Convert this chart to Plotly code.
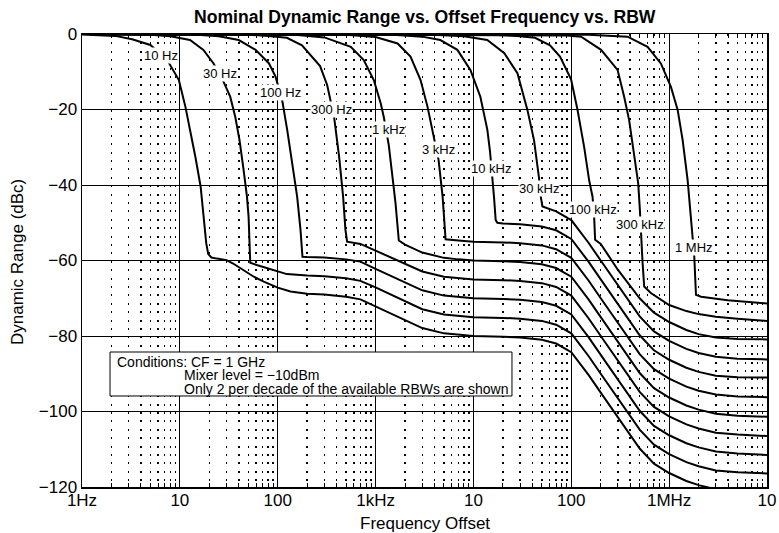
import math
import plotly.graph_objects as go

TITLE = "Nominal Dynamic Range vs. Offset Frequency vs. RBW"
X_TITLE = "Frequency Offset"
Y_TITLE = "Dynamic Range (dBc)"
X_TICK_VALUES = [1, 10, 100, 1e3, 1e4, 1e5, 1e6, 1e7]
X_TICK_LABELS = ["1Hz", "10", "100", "1kHz", "10", "100", "1MHz", "10"]
Y_TICK_VALUES = [0, -20, -40, -60, -80, -100, -120]
Y_TICK_LABELS = ["0", "\u221220", "\u221240", "\u221260", "\u221280", "\u2212100", "\u2212120"]
CONDITIONS = ["Conditions: CF = 1 GHz",
              "Mixer level = \u221210dBm",
              "Only 2 per decade of the available RBWs are shown"]

# ---- curves (offset frequency in Hz, dynamic range in dBc) ----
f_10hz = [1, 2.19, 3.25, 5.0, 7.59, 9.77, 11.4, 12.8, 14.4, 16.3, 17.6, 18.6, 19.5, 21, 24, 30, 35, 41, 50, 57,
          72, 100, 135, 200, 300, 500, 700, 1e3, 1.5e3, 2e3, 3e3, 5e3, 7e3, 1e4, 2e4, 3e4, 5e4, 7e4, 1e5, 1.5e5,
          2e5, 3e5, 5e5, 7e5, 1e6, 1.5e6, 2e6, 3e6]
db_10hz = [-0.1, -0.5, -1.4, -2.9, -7.3, -12.2, -19.3, -25.4, -32.5, -40.4, -48.4, -55.4, -58.3, -59.2, -59.5, -59.9, -60.8, -61.9, -63.4, -64.3,
           -65.6, -67.2, -68.2, -68.8, -69.0, -69.6, -70.3, -72.2, -74.3, -75.8, -77.9, -79.3, -79.7, -80.0, -80.2, -80.4, -81.0, -82.0, -84.3, -90.3,
           -95.0, -101.7, -109.8, -113.8, -116.3, -118.4, -119.5, -120.6]

f_30hz = [1, 5, 8, 12.7, 17.4, 22.1, 27.9, 32.7, 36.8, 40.7, 44.8, 48.5, 50.4, 51.6, 52.4, 61, 78, 100, 124, 200,
          300, 500, 700, 1e3, 1.5e3, 2e3, 3e3, 5e3, 7e3, 1e4, 2e4, 3e4, 5e4, 7e4, 1e5, 1.5e5, 2e5, 3e5, 5e5, 7e5,
          1e6, 1.5e6, 2e6, 3e6, 5e6, 1e7]
db_30hz = [0, -0.2, -0.6, -1.6, -4.2, -7.8, -12.6, -16.6, -21.9, -28.1, -36.0, -43.1, -48.4, -55.4, -60.6, -61.2, -62.1, -63.0, -63.6, -64.0,
           -64.2, -64.7, -65.4, -67.1, -69.2, -70.8, -72.9, -74.3, -74.7, -75.0, -75.2, -75.4, -76.0, -77.0, -79.3, -85.3, -90.0, -96.7, -104.8, -108.8,
           -111.3, -113.4, -114.5, -115.6, -116.1, -116.4]

f_100hz = [1, 15, 25, 40, 59.4, 81.5, 95, 111, 125, 141, 158, 171, 179, 200, 300, 500, 700, 1e3, 1.5e3, 2e3,
           3e3, 5e3, 7e3, 1e4, 2e4, 3e4, 5e4, 7e4, 1e5, 1.5e5, 2e5, 3e5, 5e5, 7e5, 1e6, 1.5e6, 2e6, 3e6, 5e6, 1e7]
db_100hz = [0, -0.2, -0.6, -1.6, -4.2, -7.8, -11.3, -17.5, -25.4, -34.2, -43.1, -51.9, -59.0, -59.1, -59.2, -59.7, -60.3, -62.2, -64.3, -65.8,
            -67.9, -69.3, -69.7, -70.0, -70.2, -70.4, -71.0, -72.0, -74.3, -80.3, -85.0, -91.7, -99.8, -103.8, -106.3, -108.4, -109.5, -110.6, -111.1, -111.5]

f_300hz = [1, 50, 80, 124, 177, 224, 271, 320, 377, 424, 466, 492, 512, 700, 1e3, 1.5e3, 2e3, 3e3, 5e3, 7e3,
           1e4, 2e4, 3e4, 5e4, 7e4, 1e5, 1.5e5, 2e5, 3e5, 5e5, 7e5, 1e6, 1.5e6, 2e6, 3e6, 5e6, 1e7]
db_300hz = [0, -0.2, -0.5, -1.0, -3.0, -6.0, -8.5, -13.5, -22.0, -32.5, -43.1, -51.9, -55.0, -55.6, -57.4, -59.4, -60.8, -62.9, -64.3, -64.7,
            -65.0, -65.2, -65.4, -66.0, -67.0, -69.3, -75.3, -80.0, -86.7, -94.8, -98.8, -101.3, -103.4, -104.5, -105.6, -106.1, -106.5]

f_1khz = [1, 150, 300, 558, 757, 959, 1130, 1213, 1365, 1479, 1599, 1728, 2e3, 3e3, 5e3, 7e3, 1e4, 2e4, 3e4, 5e4,
          7e4, 1e5, 1.5e5, 2e5, 3e5, 5e5, 7e5, 1e6, 1.5e6, 2e6, 3e6, 5e6, 1e7]
db_1khz = [0, -0.2, -0.9, -3.4, -6.9, -12.2, -18.4, -22.0, -29.5, -36.5, -44.8, -54.7, -55.8, -57.9, -59.3, -59.7, -60.0, -60.2, -60.4, -61.0,
           -62.0, -64.3, -70.3, -75.0, -81.7, -89.8, -93.8, -96.3, -98.4, -99.5, -100.6, -101.1, -101.4]

f_3khz = [1, 500, 1000, 1678, 2275, 2883, 3397, 3823, 4405, 4841, 5075, 5194, 7e3, 1e4, 2e4, 3e4, 5e4, 7e4, 1e5, 1.5e5,
          2e5, 3e5, 5e5, 7e5, 1e6, 1.5e6, 2e6, 3e6, 5e6, 1e7]
db_3khz = [0, -0.2, -0.8, -2.5, -6.0, -12.2, -19.3, -25.4, -33.4, -43.1, -53.0, -54.4, -54.7, -55.0, -55.2, -55.4, -56.0, -57.0, -59.3, -65.3,
           -70.0, -76.7, -84.8, -88.8, -91.3, -93.4, -94.5, -95.5, -96.0, -96.2]

f_10khz = [1, 1500, 3000, 4586, 6852, 9312, 11770, 13880, 14760, 15620, 16220, 16880, 17570, 2e4, 3e4, 5e4, 7e4, 1e5, 1.5e5, 2e5,
           3e5, 5e5, 7e5, 1e6, 1.5e6, 2e6, 3e6, 5e6, 1e7]
db_10khz = [0, -0.2, -0.7, -1.6, -4.2, -9.5, -16.6, -25.4, -31.0, -37.8, -43.1, -49.3, -50.0, -50.2, -50.4, -51.0, -52.0, -54.3, -60.3, -65.0,
            -71.7, -79.8, -83.8, -86.3, -88.4, -89.5, -90.5, -90.9, -91.0]

f_30khz = [1, 4000, 8000, 13850, 20700, 28160, 35610, 41600, 46820, 48750, 50730, 7e4, 1e5, 1.5e5, 2e5, 3e5, 5e5, 7e5, 1e6, 1.5e6,
           2e6, 3e6, 5e6, 1e7]
db_30khz = [0, -0.2, -0.6, -1.6, -5.1, -10.4, -20.1, -28.1, -38.2, -43.1, -45.7, -47.0, -49.3, -55.3, -60.0, -66.7, -74.8, -78.8, -81.3, -83.4,
            -84.5, -85.5, -86.0, -86.2]

f_100khz = [1, 15000, 28000, 42600, 60600, 76700, 99500, 115600, 135300, 152100, 164900, 171200, 175200, 2e5, 3e5, 5e5, 7e5, 1e6, 1.5e6, 2e6,
            3e6, 5e6, 1e7]
db_100khz = [0, -0.2, -0.5, -1.0, -3.0, -6.0, -12.0, -20.0, -29.9, -38.7, -43.1, -48.4, -54.5, -55.6, -62.5, -70.0, -73.8, -76.3, -78.4, -79.5,
             -80.4, -80.8, -80.9]

f_300khz = [1, 50000, 90000, 126000, 201600, 297000, 347000, 390000, 439000, 482600, 502400, 514300, 535400, 556000, 650000, 1e6, 1.5e6, 2e6, 3e6, 5e6,
            1e7]
db_300khz = [0, -0.2, -0.4, -0.7, -4.2, -9.5, -16.6, -22.8, -32.5, -39.5, -46.6, -52.8, -60.7, -66.9, -68.6, -71.8, -73.4, -74.2, -74.9, -75.4,
             -76.0]

f_1mhz = [1, 150000, 376000, 602000, 823000, 1043000, 1222000, 1374000, 1545000, 1671000, 1739000, 1807000, 1880000, 2120000, 3970000, 1e7]
db_1mhz = [0, -0.2, -0.7, -3.4, -7.8, -14.0, -20.1, -28.1, -38.7, -48.4, -54.6, -59.0, -69.1, -69.6, -70.5, -71.4]

RBW_LABELS = ["10 Hz", "30 Hz", "100 Hz", "300 Hz", "1 kHz", "3 kHz", "10 kHz", "30 kHz", "100 kHz", "300 kHz", "1 MHz"]
LABEL_FREQ = [6.45, 26.0, 107, 352, 1365, 4352, 15000, 46820, 164800, 505000, 1774000]
LABEL_DB = [-5.6, -10.4, -15.5, -20.1, -25.4, -30.7, -35.6, -40.9, -46.6, -50.4, -56.6]

CURVES = [(f_10hz, db_10hz), (f_30hz, db_30hz), (f_100hz, db_100hz), (f_300hz, db_300hz),
          (f_1khz, db_1khz), (f_3khz, db_3khz), (f_10khz, db_10khz), (f_30khz, db_30khz),
          (f_100khz, db_100khz), (f_300khz, db_300khz), (f_1mhz, db_1mhz)]

FONT = "Liberation Sans, Arial, Helvetica, sans-serif"

fig = go.Figure()
for (fx, dy), name in zip(CURVES, RBW_LABELS):
    fig.add_trace(go.Scatter(x=fx, y=dy, mode="lines", name=name,
                             line=dict(color="black", width=2), showlegend=False,
                             hoverinfo="skip"))

minor_vals = [m * 10 ** d for d in range(0, 7) for m in range(2, 10)]

fig.update_xaxes(type="log", range=[0, 7], tickmode="array", tickvals=X_TICK_VALUES,
                 ticktext=X_TICK_LABELS, tickfont=dict(size=17, color="black", family=FONT),
                 showgrid=True, gridcolor="black", gridwidth=1, zeroline=False,
                 showline=True, linecolor="black", linewidth=1.5, mirror="allticks",
                 ticks="", automargin=False, ticklabelstandoff=-3,
                 minor=dict(tickmode="array", tickvals=minor_vals, showgrid=True,
                            gridcolor="black", gridwidth=1.5, griddash="2px,6.4px",
                            ticks="inside", ticklen=4, tickwidth=1, tickcolor="black"))
fig.update_yaxes(range=[-120, 0], tickmode="array", tickvals=Y_TICK_VALUES,
                 ticktext=Y_TICK_LABELS, tickfont=dict(size=17, color="black", family=FONT),
                 showgrid=True, gridcolor="black", gridwidth=1, zeroline=False,
                 showline=True, linecolor="black", linewidth=1.5, mirror=True, ticks="",
                 automargin=False)

ann = []
for text, fx, dy in zip(RBW_LABELS, LABEL_FREQ, LABEL_DB):
    ann.append(dict(x=math.log10(fx), y=dy, xref="x", yref="y", text=text, showarrow=False,
                    xanchor="center", yanchor="middle",
                    font=dict(size=13, color="black", family=FONT), bgcolor="white", borderpad=0))

ann.append(dict(x=0.5, y=1.0375, xref="paper", yref="paper", text="<b>" + TITLE + "</b>",
                xanchor="center", yanchor="middle",
                showarrow=False, font=dict(size=17.6, color="black", family=FONT)))
ann.append(dict(x=0.5, y=-0.0795, xref="paper", yref="paper", text=X_TITLE,
                xanchor="center", yanchor="middle",
                showarrow=False, font=dict(size=17, color="black", family=FONT)))
ann.append(dict(x=-0.0934, y=0.4967, xref="paper", yref="paper", text=Y_TITLE, textangle=-90,
                xanchor="center", yanchor="middle",
                showarrow=False, font=dict(size=17, color="black", family=FONT)))

cond_x = [0.0482, 0.1455, 0.1455]
cond_y = [0.2766, 0.2472, 0.2170]
for text, cx, cy in zip(CONDITIONS, cond_x, cond_y):
    ann.append(dict(x=cx, y=cy, xref="paper", yref="paper", text=text, showarrow=False,
                    xanchor="left", yanchor="middle",
                    font=dict(size=14, color="black", family=FONT)))

fig.update_layout(
    width=779, height=533,
    margin=dict(l=82, r=12, t=34, b=46, autoexpand=False),
    paper_bgcolor="white", plot_bgcolor="white",
    annotations=ann,
    shapes=[dict(type="rect", xref="paper", yref="paper", x0=0.0409, x1=0.6277, y0=0.2009, y1=0.298,
                 line=dict(color="black", width=1), fillcolor="white", layer="above")],
)

fig.write_html("out.html", config={"displayModeBar": False, "staticPlot": True},
               post_script="document.body.style.margin='0';document.body.style.overflow='hidden';")
